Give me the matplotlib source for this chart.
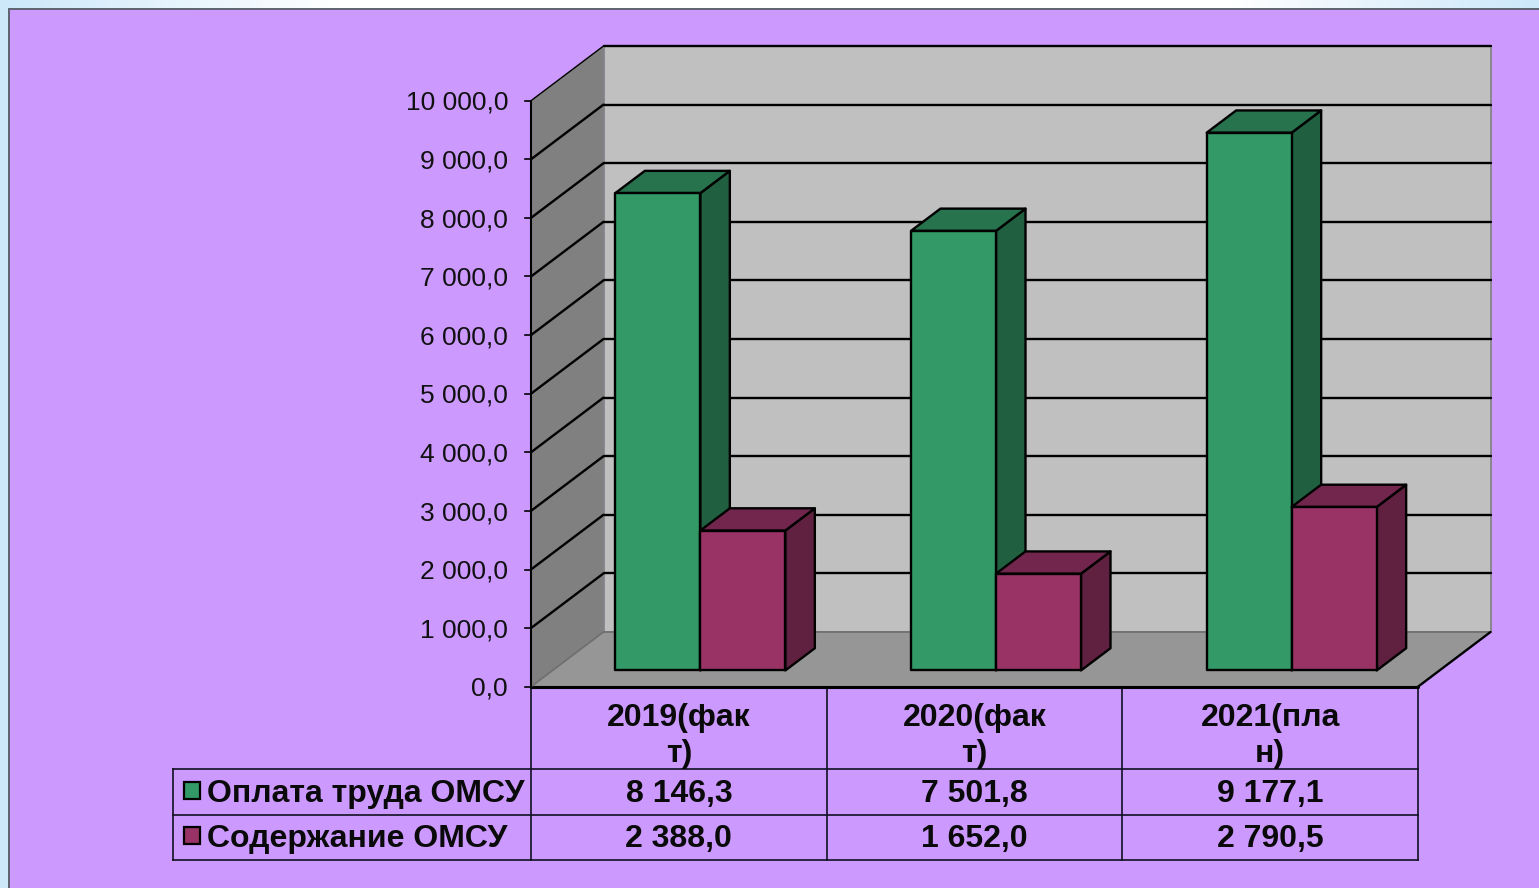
import numpy as np
import matplotlib
matplotlib.use("Agg")
import matplotlib.pyplot as plt
from matplotlib.patches import Polygon, Rectangle

categories = ["2019(фак\nт)", "2020(фак\nт)", "2021(пла\nн)"]
series_names = ["Оплата труда ОМСУ", "Содержание ОМСУ"]
pay_values = [8146.3, 7501.8, 9177.1]
upkeep_values = [2388.0, 1652.0, 2790.5]
y_ticks = [0, 1000, 2000, 3000, 4000, 5000, 6000, 7000, 8000, 9000, 10000]

W, H = 1539, 888
PURPLE = "#CC99FF"
plt.rcParams["font.family"] = ["Liberation Sans", "DejaVu Sans"]

fig = plt.figure(figsize=(W / 100, H / 100), dpi=100)

# page background in pixel coordinates
bg = fig.add_axes([0, 0, 1, 1])
bg.set_xlim(0, W); bg.set_ylim(H, 0); bg.axis("off")
xx = np.linspace(0, 1, 400)
grad = np.clip(np.maximum((0.22 - xx) / 0.22, (xx - 0.80) / 0.20), 0, 1)
col = np.ones((2, 400, 3))
for i, c in enumerate((0.80, 0.91, 0.98)):
    col[:, :, i] = 1 - (1 - c) * grad
bg.imshow(col, extent=(0, W, H, 0), aspect="auto", zorder=0)
bg.set_xlim(0, W); bg.set_ylim(H, 0)
bg.add_patch(Rectangle((8.5, 9.5), W, H, fc=PURPLE, ec="#5E6270", lw=1.4, zorder=1))

# front plane of the chart: x in category units, y in values
L, R, T, B = 531, 1418, 100.7, 686.7
ax = fig.add_axes([L / W, 1 - B / H, (R - L) / W, (B - T) / H])
ax.set_xlim(0, len(categories)); ax.set_ylim(0, y_ticks[-1]); ax.axis("off")
ax.patch.set_alpha(0)
ppx = len(categories) / (R - L)      # category units per pixel
ppy = y_ticks[-1] / (B - T)          # value units per pixel
DX, DY = 72.5 * ppx, 54.7 * ppy      # full depth of the chart


def pr(x, v, d=0.0):
    """Project (category x, value v, depth d in 0..1) onto the axes."""
    return (x + d * DX, v + d * DY)


def poly(pts, fc, ec="black", lw=1.7, z=2):
    ax.add_patch(Polygon(pts, closed=True, fc=fc, ec=ec, lw=lw, zorder=z,
                         clip_on=False, joinstyle="round"))


def seg(a, b, c="black", lw=1.7, z=3):
    ax.plot([a[0], b[0]], [a[1], b[1]], color=c, lw=lw, zorder=z,
            clip_on=False, solid_capstyle="round")


n = len(categories)
top = y_ticks[-1]
poly([pr(0, 0, 1), pr(n, 0, 1), pr(n, top, 1), pr(0, top, 1)], "#C0C0C0", ec="#808080", lw=1.2)
poly([pr(0, 0), pr(0, 0, 1), pr(0, top, 1), pr(0, top)], "#808080", ec="none", lw=0)
poly([pr(0, 0), pr(n, 0), pr(n, 0, 1), pr(0, 0, 1)], "#969696", ec="none", lw=0)
for v in y_ticks[1:]:
    seg(pr(0, v), pr(0, v, 1), lw=1.7 if v < top else 1.0)
    seg(pr(0, v, 1), pr(n, v, 1))
seg(pr(0, 0, 1), pr(n, 0, 1), c="#6E6E6E", lw=1.2)
seg(pr(0, 0), pr(0, 0, 1), c="#6E6E6E", lw=1.2)
seg(pr(n, 0), pr(n, 0, 1), lw=1.7)
seg(pr(0, 0), pr(n, 0), lw=2.2, z=2.5)
seg(pr(0, 0), pr(0, top), lw=1.5)
for v in y_ticks:
    ax.plot([-6 * ppx, 0], [v, v], color="black", lw=1.2, clip_on=False, zorder=3)
    s = f"{v:,.1f}".replace(",", " ").replace(".", ",")
    ax.annotate(s, (0, v), xytext=(-23 / 100 * 72, -1.6), textcoords="offset points",
                ha="right", va="center", fontsize=19, color="#111111", annotation_clip=False)

# bars
BW = 85 * ppx
D0, D1 = 21.5 / 72.5, 51 / 72.5
face = [("#339966", "#26734D", "#206040"), ("#993366", "#73264D", "#60203F")]
for i in range(n):
    x0 = i + 0.5 - BW
    for j, vals in enumerate((pay_values, upkeep_values)):
        a, b, v = x0 + j * BW, x0 + (j + 1) * BW, vals[i]
        f, t, s = face[j]
        poly([pr(b, 0, D0), pr(b, 0, D1), pr(b, v, D1), pr(b, v, D0)], s, z=4 + j)
        poly([pr(a, v, D0), pr(b, v, D0), pr(b, v, D1), pr(a, v, D1)], t, z=4 + j)
        poly([pr(a, 0, D0), pr(b, 0, D0), pr(b, v, D0), pr(a, v, D0)], f, z=4 + j)

# data table in pixel coordinates
X = [L + (R - L) * k / n for k in range(n + 1)]
TX, R0, R1, R2 = 173, 768.5, 814.5, 860
TC = "#111122"
for x in X:
    bg.plot([x, x], [B, R2], color=TC, lw=1.2, zorder=2)
bg.plot([TX, TX], [R0, R2], color=TC, lw=1.2, zorder=2)
for y in (R0, R1, R2):
    bg.plot([TX, R], [y, y], color=TC, lw=1.2, zorder=2)
TXT = dict(ha="center", va="center", fontsize=23, fontweight="bold", color="#0A0A0A", zorder=3)
for i, c in enumerate(categories):
    xc = (X[i] + X[i + 1]) / 2
    a, b = c.split("\n")
    bg.text(xc, 717.5, a, **TXT)
    bg.text(xc, 753.5, b, **TXT)
    for y, vals in ((794, pay_values), (839, upkeep_values)):
        s = f"{vals[i]:,.1f}".replace(",", " ").replace(".", ",")
        bg.text(xc, y, s, **TXT)
for y, name, f in ((791, series_names[0], face[0][0]), (836, series_names[1], face[1][0])):
    bg.add_patch(Rectangle((183.5, y - 9.5), 16.5, 17.5, fc=f, ec="black", lw=1.6, zorder=3))
    bg.text(207, y + 2.5, name, ha="left", va="center", fontsize=23, fontweight="bold",
            color="#0A0A0A", zorder=3)

fig.savefig("out.png", dpi=100)
